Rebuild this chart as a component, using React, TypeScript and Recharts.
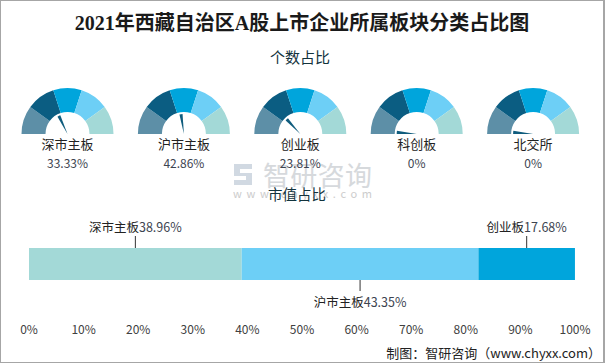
import React from 'react';
import { PieChart, Pie, Cell, BarChart, Bar, XAxis, YAxis, LabelList } from 'recharts';

// ---- data ----
const gaugeNames = ['深市主板', '沪市主板', '创业板', '科创板', '北交所'];
const countShares = [33.33, 42.86, 23.81, 0, 0];
const gaugeBands = [1, 1, 1, 1, 1];
const gaugeColors = ['#5d8fa7', '#0b5d82', '#00a5dc', '#6dcff6', '#a3d9d7'];

const capNames = ['深市主板', '沪市主板', '创业板'];
const capShares = [38.96, 43.35, 17.68];
const capColors = ['#a3d9d7', '#6dcff6', '#00a5dc'];
const capLabelSides = ['top', 'bottom', 'top'];

const xTicks = [0, 10, 20, 30, 40, 50, 60, 70, 80, 90, 100];

const titleText = '2021年西藏自治区A股上市企业所属板块分类占比图';
const countTitle = '个数占比';
const capTitle = '市值占比';
const footerText = '制图：智研咨询（www.chyxx.com）';

// ---- layout ----
const W = 605;
const H = 363;
const FONT = "'Noto Sans CJK SC', 'Noto Sans', sans-serif";
const NEEDLE_WIDTH = 5; // share of the half circle covered by the needle wedge
const GAUGE_CY = 134;
const gaugeCx = (i: number) => 67.5 + i * 116.4;

const capRow: Record<string, any> = { name: capTitle };
capShares.forEach((v, i) => {
  capRow[`s${i}`] = v;
});
const capData = [capRow];

const CapLabel = (props: any) => {
  const { x, y, width, height, value, index, name, side } = props;
  if (index !== 0) return null;
  const cx = Number(x) + Number(width) / 2;
  const top = side === 'top';
  const lineY1 = top ? Number(y) - 12 : Number(y) + Number(height);
  const lineY2 = top ? Number(y) : Number(y) + Number(height) + 11;
  const ty = top ? Number(y) - 22 : Number(y) + Number(height) + 21;
  return (
    <g>
      <line x1={cx} x2={cx} y1={lineY1} y2={lineY2} stroke="#333" strokeWidth={1} />
      <text x={cx} y={ty} textAnchor="middle" dominantBaseline="central" fontFamily={FONT} fontSize={12.5}>
        <tspan fill="#222">{name}</tspan>
        <tspan fill="#3d4450">{`${Number(value).toFixed(2)}%`}</tspan>
      </text>
    </g>
  );
};

export default function App() {
  return (
    <div style={{ position: 'absolute', left: 0, top: 0, width: W, height: H, background: '#fff', overflow: 'hidden' }}>
      <div style={{ position: 'absolute', left: 0, top: 0 }}>
        <PieChart width={W} height={H} margin={{ top: 0, right: 0, bottom: 0, left: 0 }}>
          {gaugeNames.map((n, i) => (
            <Pie
              key={`band-${n}`}
              data={gaugeBands.map((v, k) => ({ name: `b${k}`, v }))}
              dataKey="v"
              cx={gaugeCx(i)}
              cy={GAUGE_CY}
              startAngle={180}
              endAngle={0}
              innerRadius={22}
              outerRadius={46}
              stroke="none"
              isAnimationActive={false}
            >
              {gaugeColors.map((c, k) => (
                <Cell key={k} fill={c} stroke="none" />
              ))}
            </Pie>
          ))}
          {gaugeNames.map((n, i) => (
            <Pie
              key={`needle-${n}`}
              data={[
                { name: 'before', v: countShares[i] },
                { name: 'needle', v: NEEDLE_WIDTH },
                { name: 'after', v: Math.max(0, 100 - countShares[i] - NEEDLE_WIDTH) },
              ]}
              dataKey="v"
              cx={gaugeCx(i)}
              cy={GAUGE_CY}
              startAngle={180}
              endAngle={0}
              innerRadius={0}
              outerRadius={20}
              stroke="none"
              isAnimationActive={false}
            >
              <Cell fill="none" stroke="none" />
              <Cell fill="#0f5c7d" stroke="none" />
              <Cell fill="none" stroke="none" />
            </Pie>
          ))}
        </PieChart>
      </div>
      <div style={{ position: 'absolute', left: 0, top: 0 }}>
        <BarChart
          width={W}
          height={H}
          data={capData}
          layout="vertical"
          margin={{ top: 248, right: 30, bottom: 23, left: 29 }}
          barCategoryGap={0}
        >
          <XAxis
            type="number"
            domain={[0, 100]}
            ticks={xTicks}
            interval={0}
            tickFormatter={(v: number) => `${v}%`}
            axisLine={false}
            tickLine={false}
            tickMargin={39}
            height={60}
            tick={{ fill: '#404040', fontSize: 12, fontFamily: FONT }}
          />
          <YAxis type="category" dataKey="name" hide />
          {capNames.map((n, i) => (
            <Bar key={n} dataKey={`s${i}`} stackId="cap" fill={capColors[i]} isAnimationActive={false}>
              <LabelList
                dataKey={`s${i}`}
                content={(p: any) => <CapLabel {...p} index={0} name={n} side={capLabelSides[i]} />}
              />
            </Bar>
          ))}
        </BarChart>
      </div>
      <svg width={W} height={H} style={{ position: 'absolute', left: 0, top: 0, pointerEvents: 'none' }}>
        {/* watermark */}
        <g opacity={0.85}>
          <path d="M234 164 h18 v5 h-12 v4 h12 v12 h-18 v-5 h12 v-4 h-12 z" fill="#c9d3de" />
          <text x={263} y={174} dominantBaseline="central" fontFamily={FONT} fontSize={27} fill="#cfd3d7" textLength={109} lengthAdjust="spacing">
            智研咨询
          </text>
          <text x={233} y={193} dominantBaseline="central" fontFamily={FONT} fontSize={11} fill="#c4c4c4" textLength={139} lengthAdjust="spacing">
            www.chyxx.com
          </text>
        </g>
        <text x={302} y={23} textAnchor="middle" dominantBaseline="central" fontFamily="'Liberation Serif', 'Noto Sans CJK SC', serif" fontWeight="bold" fontSize={20} fill="#1a1a1a">
          {titleText}
        </text>
        <text x={300} y={56} textAnchor="middle" dominantBaseline="central" fontFamily={FONT} fontSize={15} fill="#12333d">
          {countTitle}
        </text>
        <text x={297} y={193} textAnchor="middle" dominantBaseline="central" fontFamily={FONT} fontSize={14.5} fill="#12333d">
          {capTitle}
        </text>
        {gaugeNames.map((n, i) => (
          <g key={n}>
            <text x={gaugeCx(i)} y={143.5} textAnchor="middle" dominantBaseline="central" fontFamily={FONT} fontSize={13} fill="#222">
              {n}
            </text>
            <text x={gaugeCx(i)} y={162} textAnchor="middle" dominantBaseline="central" fontFamily={FONT} fontSize={12} fill="#3d4450">
              {`${countShares[i] === 0 ? 0 : countShares[i].toFixed(2)}%`}
            </text>
          </g>
        ))}
        <text x={601} y={352} textAnchor="end" dominantBaseline="central" fontFamily={FONT} fontSize={13} fill="#222">
          {footerText}
        </text>
      </svg>
      <div style={{ position: 'absolute', left: 0, top: 0, width: W, height: H, boxSizing: 'border-box', border: '1px solid #a6a6a6', borderRightWidth: 2, pointerEvents: 'none' }} />
    </div>
  );
}
